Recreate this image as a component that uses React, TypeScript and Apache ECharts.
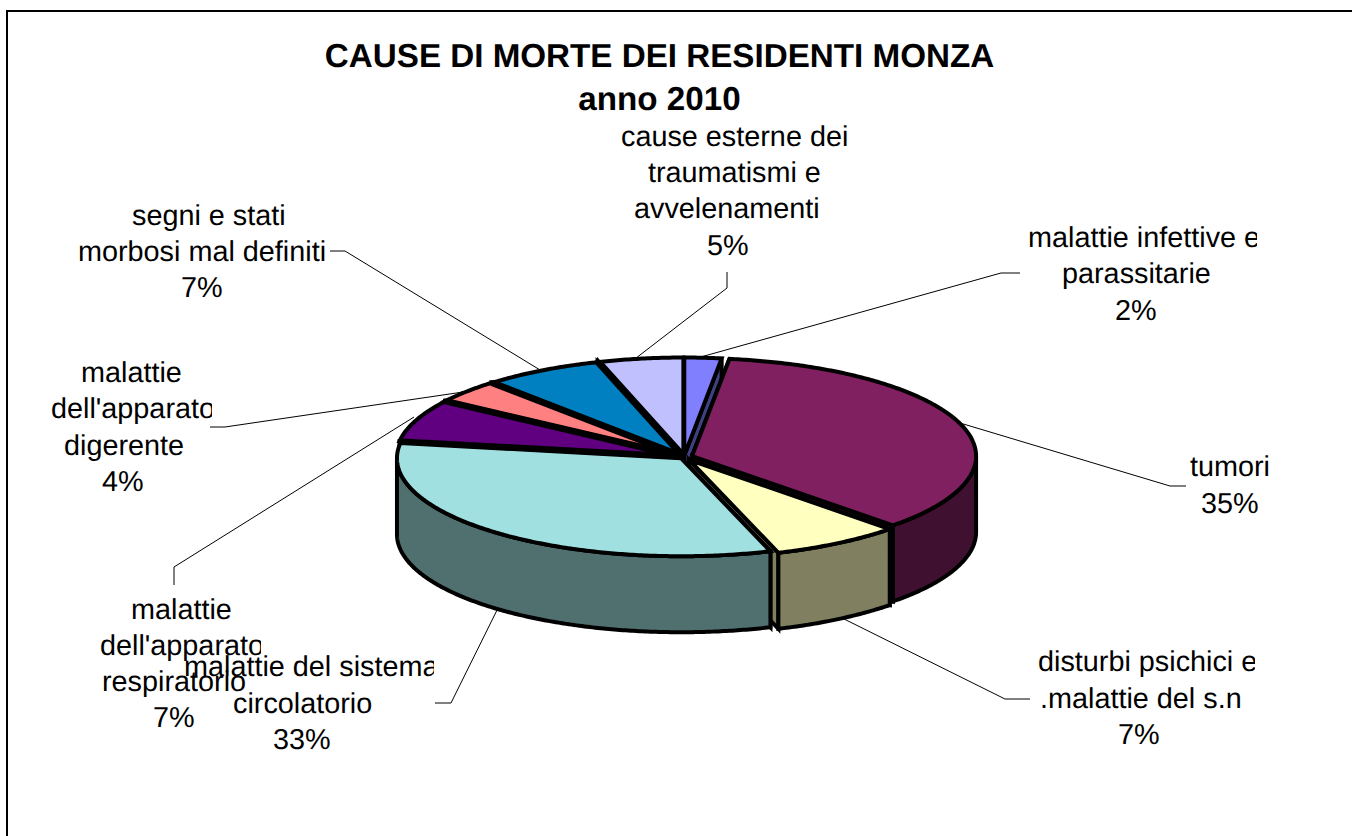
import React, { useEffect, useRef } from "react";
import * as echarts from "echarts";

const titleLines = ["CAUSE DI MORTE DEI RESIDENTI MONZA", "anno 2010"];
const categories = [
  ["malattie infettive e", "parassitarie"],
  ["tumori"],
  ["disturbi psichici e", ".malattie del s.n"],
  ["malattie del sistema", "circolatorio"],
  ["malattie", "dell'apparato", "respiratorio"],
  ["malattie", "dell'apparato", "digerente"],
  ["segni e stati", "morbosi mal definiti"],
  ["cause esterne dei", "traumatismi e", "avvelenamenti"],
];
const values = [2.1, 35.4, 7.4, 32.6, 7.0, 3.9, 6.8, 4.8];
const topColors = ["#8080FF", "#802060", "#FFFFC0", "#A0E0E0", "#600080", "#FF8080", "#0080C0", "#C0C0FF"];
const sideColors = ["#404080", "#401030", "#808060", "#507070", "#300040", "#804040", "#004060", "#606080"];

// layout only
const explode = [0.015, 0.03, 0.033, 0.0165, 0.015, 0.016, 0.015, 0.015];
const radialWidths = [[0, 0], [0, 0], [0, 0], [0, 0], [6, 6], [6, 6], [6, 6], [6, 0]];
const drawOrder = [1, 5, 6, 7, 4, 3, 2, 0];
const CX = 684, CY = 457, RX = 284, RY = 98, DEPTH = 76;
const BODY_FONT = 28.8, TITLE_FONT = 33.2;
const labelLayout = [
  { left: [1028, 1062, 1115], y: [238, 274, 311], clip: 1257 },
  { left: [1190, 1201], y: [467, 504], clip: 1269 },
  { left: [1038, 1040, 1118], y: [662, 699, 735], clip: 1255 },
  { left: [184, 233, 273], y: [667, 704, 740], clip: 434 },
  { left: [131, 100, 102, 153], y: [610, 646, 682, 718], clip: 261 },
  { left: [81, 51, 64, 102], y: [373, 409, 446, 482], clip: 212 },
  { left: [132, 78, 181], y: [216, 252, 288], clip: 400 },
  { left: [621, 648, 634, 707], y: [137, 173, 209, 246], clip: 848 },
];
const leaders = [
  [[690, 360], [1001, 273], [1020, 273]],
  [[950, 420], [1170, 486], [1186, 486]],
  [[830, 612], [1005, 699], [1030, 699]],
  [[503, 598], [451, 703], [435, 703]],
  [[414, 417], [174, 567], [174, 585]],
  [[470, 391], [225, 427], [210, 427]],
  [[545, 373], [345, 251], [330, 251]],
  [[627, 365], [727, 288], [727, 272]],
];

const total = values.reduce((a, b) => a + b, 0);
const starts: number[] = [];
values.reduce((acc, v, i) => {
  starts[i] = acc;
  return acc + v;
}, 0);
const rad = (pct: number) => (pct / total) * Math.PI * 2;

function rimArc(cx: number, cy: number, a0: number, a1: number) {
  const pts: number[][] = [];
  const n = Math.max(2, Math.ceil((a1 - a0) / 0.01));
  for (let k = 0; k <= n; k++) {
    const a = a0 + ((a1 - a0) * k) / n;
    pts.push([cx + RX * Math.sin(a), cy - RY * Math.cos(a)]);
  }
  return pts;
}

function renderSlice(params: any, api: any) {
  const i = params.dataIndex;
  const v = api.value(0);
  const a0 = rad(starts[i]);
  const a1 = a0 + rad(v);
  const mid = (a0 + a1) / 2;
  const cx = CX + explode[i] * RX * Math.sin(mid);
  const cy = CY - explode[i] * RY * Math.cos(mid);
  const base = drawOrder[i] * 10 + 10;
  const edge = { stroke: "#000", lineWidth: 4, lineJoin: "miter", miterLimit: 3 };
  const children: any[] = [];
  const cut = (a: number, z: number) => {
    const rx = cx + RX * Math.sin(a);
    const ry = cy - RY * Math.cos(a);
    children.push({
      type: "polygon",
      z2: base + z,
      shape: { points: [[cx, cy], [rx, ry], [rx, ry + DEPTH], [cx, cy + DEPTH]] },
      style: { fill: sideColors[i], ...edge },
    });
  };
  cut(a0, 0);
  cut(a1, 1);
  const w0 = Math.max(a0, Math.PI / 2);
  const w1 = Math.min(a1, (Math.PI * 3) / 2);
  if (w1 > w0) {
    const top = rimArc(cx, cy, w0, w1);
    const bottom = top.map(([x, y]) => [x, y + DEPTH]).reverse();
    children.push({
      type: "polygon",
      z2: base + 2,
      shape: { points: [...top, ...bottom] },
      style: { fill: sideColors[i], ...edge },
    });
  }
  children.push({
    type: "polygon",
    z2: base + 3,
    shape: { points: [[cx, cy], ...rimArc(cx, cy, a0, a1)] },
    style: { fill: topColors[i], ...edge },
  });
  [a0, a1].forEach((a, k) => {
    const w = radialWidths[i][k];
    if (!w) return;
    children.push({
      type: "line",
      z2: 95,
      shape: { x1: cx, y1: cy, x2: cx + RX * Math.sin(a), y2: cy - RY * Math.cos(a) },
      style: { stroke: "#000", lineWidth: w, lineCap: "butt" },
    });
  });
  return { type: "group", children };
}

function renderLabel(params: any, api: any) {
  const i = params.dataIndex;
  const L = labelLayout[i];
  const lines = [...categories[i], `${Math.round(api.value(0))}%`];
  const children: any[] = [
    {
      type: "polyline",
      z2: 1,
      shape: { points: leaders[i] },
      style: { stroke: "#000", lineWidth: 1, fill: "none" },
    },
  ];
  lines.forEach((t, k) => {
    children.push({
      type: "text",
      z2: 200 + i,
      clipPath: { type: "rect", shape: { x: 0, y: 0, width: L.clip, height: 836 } },
      style: {
        x: L.left[k],
        y: L.y[k],
        text: t,
        fill: "#000",
        font: `${BODY_FONT}px "Liberation Sans", Arial, sans-serif`,
        textAlign: "left",
        textVerticalAlign: "middle",
      },
    });
  });
  return { type: "group", children };
}

export default function App() {
  const ref = useRef<HTMLDivElement>(null);
  useEffect(() => {
    const chart = echarts.init(ref.current!, null, { renderer: "svg" });
    chart.setOption({
      animation: false,
      backgroundColor: "#fff",
      graphic: [
        {
          type: "rect",
          silent: true,
          shape: { x: 7, y: 11, width: 2000, height: 2000 },
          style: { fill: "none", stroke: "#000", lineWidth: 2 },
        },
        ...titleLines.map((t, k) => ({
          type: "text",
          silent: true,
          style: {
            x: 659.5,
            y: [56, 99][k],
            text: t,
            fill: "#000",
            font: `bold ${TITLE_FONT}px "Liberation Sans", Arial, sans-serif`,
            textAlign: "center",
            textVerticalAlign: "middle",
          },
        })),
      ],
      series: [
        { type: "custom", coordinateSystem: "none", silent: true, clip: false, data: values.map((v) => [v]), renderItem: renderSlice },
        { type: "custom", coordinateSystem: "none", silent: true, clip: false, data: values.map((v) => [v]), renderItem: renderLabel },
      ],
    });
    return () => chart.dispose();
  }, []);
  return (
    <div
      ref={ref}
      style={{ position: "fixed", left: 0, top: 0, width: 1352, height: 836, textRendering: "geometricPrecision" }}
    />
  );
}
